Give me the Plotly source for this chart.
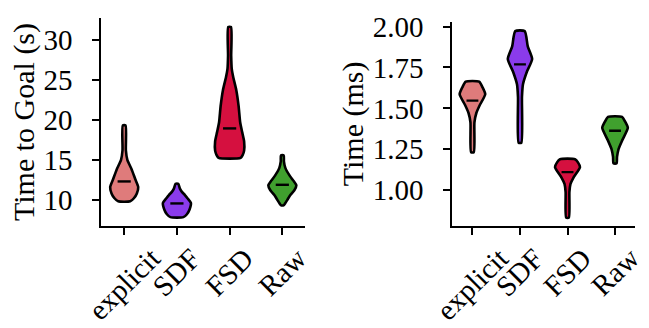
import plotly.graph_objects as go

categories = ["explicit", "SDF", "FSD", "Raw"]
colors = ["#DF7B7B", "#8A3BEB", "#D5103F", "#40A02E"]

# ---- Left panel: Time to Goal (s) ----
# violin outline: value levels and half widths (category units)
goal_explicit_y = [9.82, 10.2, 10.8, 11.6, 12.6, 13.8, 15.0, 16.2, 19.3]
goal_explicit_w = [0.114, 0.184, 0.24, 0.266, 0.209, 0.142, 0.06, 0.032, 0.026]
goal_sdf_y = [7.84, 8.2, 8.8, 9.6, 10.2, 10.6, 11.0, 11.4, 12.0]
goal_sdf_w = [0.123, 0.19, 0.24, 0.266, 0.2, 0.152, 0.095, 0.057, 0.026]
goal_fsd_y = [15.25, 15.6, 16.15, 17.3, 18.5, 19.7, 21.7, 23.7, 25.3, 26.4, 28.0, 31.6]
goal_fsd_w = [0.209, 0.247, 0.275, 0.275, 0.237, 0.2, 0.171, 0.127, 0.07, 0.04, 0.03, 0.026]
goal_raw_y = [9.35, 9.6, 10.0, 10.6, 11.2, 11.8, 12.4, 13.0, 14.0, 14.8, 15.56]
goal_raw_w = [0.03, 0.057, 0.095, 0.152, 0.228, 0.266, 0.209, 0.142, 0.057, 0.03, 0.026]
goal_medians = [12.3, 9.55, 18.93, 11.88]
goal_ticks = [10, 15, 20, 25, 30]

# ---- Right panel: Time (ms) ----
time_explicit_y = [1.232, 1.415, 1.473, 1.522, 1.586, 1.63, 1.663]
time_explicit_w = [0.028, 0.042, 0.084, 0.158, 0.269, 0.21, 0.141]
time_sdf_y = [1.29, 1.57, 1.647, 1.725, 1.802, 1.879, 1.972]
time_sdf_w = [0.028, 0.042, 0.063, 0.147, 0.256, 0.164, 0.099]
time_fsd_y = [0.832, 0.99, 1.038, 1.077, 1.141, 1.17, 1.189]
time_fsd_w = [0.028, 0.04, 0.063, 0.126, 0.263, 0.22, 0.158]
time_raw_y = [1.164, 1.203, 1.251, 1.309, 1.381, 1.42, 1.448]
time_raw_w = [0.032, 0.042, 0.074, 0.158, 0.269, 0.21, 0.147]
time_medians = [1.547, 1.769, 1.110, 1.363]
time_ticks = [1.00, 1.25, 1.50, 1.75, 2.00]

goal_profiles = [(goal_explicit_y, goal_explicit_w), (goal_sdf_y, goal_sdf_w),
                 (goal_fsd_y, goal_fsd_w), (goal_raw_y, goal_raw_w)]
time_profiles = [(time_explicit_y, time_explicit_w), (time_sdf_y, time_sdf_w),
                 (time_fsd_y, time_fsd_w), (time_raw_y, time_raw_w)]

FONT = "Liberation Serif"
MED_HALF = 0.125

fig = go.Figure()


def add_violins(profiles, medians, xaxis, yaxis):
    for i, ((ys, ws), col) in enumerate(zip(profiles, colors)):
        xs = [i + w for w in ws] + [i - w for w in reversed(ws)]
        yy = list(ys) + list(reversed(ys))
        xs.append(xs[0])
        yy.append(yy[0])
        fig.add_trace(go.Scatter(
            x=xs, y=yy, mode="lines", fill="toself", fillcolor=col,
            line=dict(color="black", width=2.6, shape="spline", smoothing=0.6),
            xaxis=xaxis, yaxis=yaxis, hoverinfo="skip", showlegend=False))
        fig.add_trace(go.Scatter(
            x=[i - MED_HALF, i + MED_HALF], y=[medians[i], medians[i]],
            mode="lines", line=dict(color="black", width=2.4),
            xaxis=xaxis, yaxis=yaxis, hoverinfo="skip", showlegend=False))


add_violins(goal_profiles, goal_medians, "x", "y")
add_violins(time_profiles, time_medians, "x2", "y2")

axis_common = dict(showline=True, linecolor="black", linewidth=1.6, ticks="outside",
                   ticklen=7, tickwidth=1.6, tickcolor="black", showgrid=False,
                   zeroline=False, tickfont=dict(family=FONT, size=29, color="black"))

fig.update_layout(
    width=649, height=328,
    margin=dict(l=101, r=14, t=7, b=102),
    paper_bgcolor="white", plot_bgcolor="white", showlegend=False,
    xaxis=dict(domain=[0, 204 / 534], range=[-0.44, 3.43], tickvals=[0, 1, 2, 3],
               ticktext=["", "", "", ""], anchor="y", **axis_common),
    yaxis=dict(domain=[0, 1], range=[6.73, 32.73], tickvals=goal_ticks,
               ticktext=[str(t) for t in goal_ticks], anchor="x", ticklabelstandoff=14,
               title=dict(text="Time to Goal (s)", standoff=0,
                          font=dict(family=FONT, size=30, color="black")),
               **axis_common),
    xaxis2=dict(domain=[351 / 534, 1], range=[-0.43, 3.42], tickvals=[0, 1, 2, 3],
                ticktext=["", "", "", ""], anchor="y2", **axis_common),
    yaxis2=dict(domain=[0, 1 - 4 / 219], range=[0.781, 2.029], tickvals=time_ticks,
                ticktext=[f"{t:.2f}" for t in time_ticks], anchor="x2", ticklabelstandoff=14,
                title=dict(text="Time (ms)", standoff=0,
                           font=dict(family=FONT, size=30, color="black")),
                **axis_common),
)

for xr, yr in [("x", "y domain"), ("x2", "y2 domain")]:
    for i, cat in enumerate(categories):
        fig.add_annotation(x=i, y=0, xref=xr, yref=yr, text=cat, showarrow=False,
                           textangle=-45, xanchor="center", yanchor="top", yshift=-15,
                           borderpad=0, font=dict(family=FONT, size=29, color="black"))

fig.write_html("out.html")
